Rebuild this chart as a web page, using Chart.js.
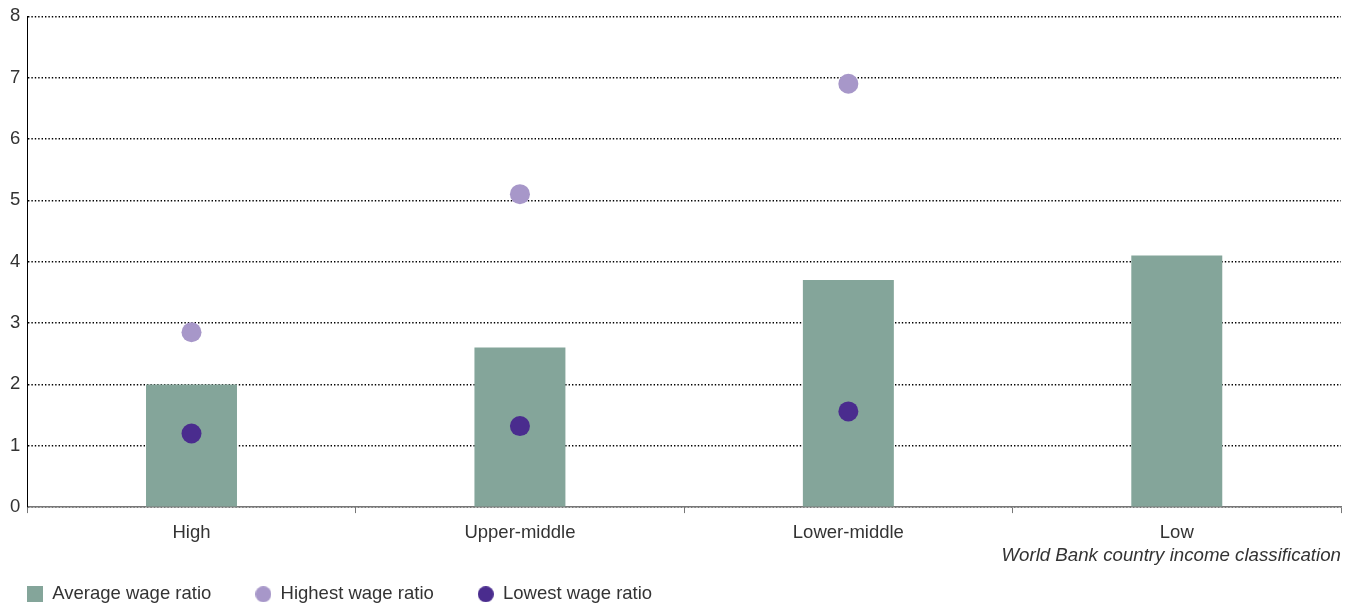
<!DOCTYPE html>
<html>
<head>
<meta charset="utf-8">
<script src="https://cdn.jsdelivr.net/npm/chart.js@4"></script>
<style>
  html, body { margin: 0; padding: 0; background: #fff; }
  #wrap { width: 1356px; height: 604px; position: relative; }
</style>
</head>
<body>
<div id="wrap"><canvas id="chart"></canvas></div>
<script>
const categories = ['High', 'Upper-middle', 'Lower-middle', 'Low'];
const averageRatio = [2.0, 2.6, 3.7, 4.1];
const highestRatio = [2.85, 5.1, 6.9, null];
const lowestRatio = [1.2, 1.32, 1.56, null];
const yTicks = [0, 1, 2, 3, 4, 5, 6, 7, 8];

const barColor = '#84a59a';
const highColor = '#a797c9';
const lowColor = '#4a2c8e';
const textColor = '#333';
const font = "'Liberation Sans', Arial, sans-serif";

// small canvases used as legend markers
function marker(kind, color) {
  const c = document.createElement('canvas');
  c.width = 16; c.height = 16;
  const g = c.getContext('2d');
  g.fillStyle = color;
  if (kind === 'rect') {
    g.fillRect(0, 0, 16, 16);
  } else {
    g.beginPath();
    g.arc(8, 8, 8, 0, Math.PI * 2);
    g.fill();
  }
  return c;
}
const legendMarkers = [marker('rect', barColor), marker('circle', highColor), marker('circle', lowColor)];

// move the legend to sit under the plot, flush with the y axis
const legendNudge = {
  id: 'legendNudge',
  afterLayout(chart) {
    chart.legend.left -= 20;
    chart.legend.top -= 26;
  }
};

const ctx = document.getElementById('chart');
new Chart(ctx, {
  type: 'bar',
  data: {
    labels: categories,
    datasets: [
      {
        label: 'Average wage ratio',
        data: averageRatio,
        backgroundColor: barColor,
        categoryPercentage: 1,
        barPercentage: 0.277,
        order: 3
      },
      {
        type: 'line',
        label: 'Highest wage ratio',
        data: highestRatio,
        showLine: false,
        pointRadius: 10,
        pointHoverRadius: 10,
        pointBorderWidth: 0,
        pointBackgroundColor: highColor,
        borderColor: highColor,
        order: 2
      },
      {
        type: 'line',
        label: 'Lowest wage ratio',
        data: lowestRatio,
        showLine: false,
        pointRadius: 10,
        pointHoverRadius: 10,
        pointBorderWidth: 0,
        pointBackgroundColor: lowColor,
        borderColor: lowColor,
        order: 1
      }
    ]
  },
  options: {
    responsive: true,
    maintainAspectRatio: false,
    animation: false,
    layout: { padding: { top: 0, right: 15, bottom: 0, left: 3 } },
    scales: {
      x: {
        offset: true,
        grid: {
          offset: true,
          drawOnChartArea: false,
          drawTicks: true,
          tickLength: 6,
          color: '#777'
        },
        border: { color: '#777', width: 1.5 },
        ticks: { color: textColor, font: { family: font, size: 18.5 }, padding: 9 },
        title: {
          display: true,
          text: 'World Bank country income classification',
          align: 'end',
          color: textColor,
          font: { family: font, size: 18.7, style: 'italic', lineHeight: 1 },
          padding: { top: -7, bottom: 2 }
        }
      },
      y: {
        min: 0,
        max: 8,
        afterBuildTicks: (axis) => { axis.ticks = yTicks.map((v) => ({ value: v })); },
        grid: { color: '#000', lineWidth: 1.4, drawTicks: false },
        border: { color: '#000', width: 1, dash: [1.4, 2] },
        ticks: { color: textColor, font: { family: font, size: 18.5, lineHeight: 1 }, padding: 7 }
      }
    },
    plugins: {
      legend: {
        position: 'bottom',
        align: 'start',
        maxHeight: 37,
        labels: {
          usePointStyle: true,
          boxWidth: 16,
          boxHeight: 16,
          padding: 44,
          color: textColor,
          font: { family: font, size: 18.5 },
          sort: (a, b) => a.datasetIndex - b.datasetIndex,
          generateLabels: (chart) => {
            const items = Chart.defaults.plugins.legend.labels.generateLabels(chart);
            items.forEach((it) => { it.pointStyle = legendMarkers[it.datasetIndex]; });
            return items;
          }
        }
      },
      tooltip: { enabled: true }
    }
  },
  plugins: [legendNudge]
});
</script>
</body>
</html>
